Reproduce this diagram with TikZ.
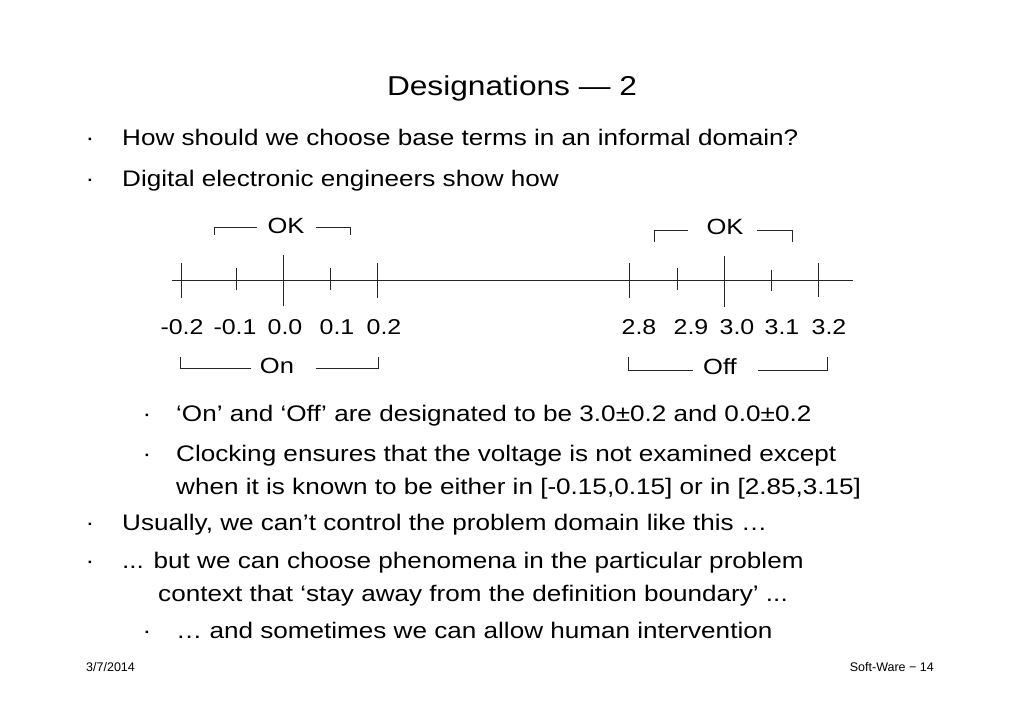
\documentclass[tikz,border=0pt]{standalone}
\usepackage{fontspec}
\setmainfont{Liberation Sans}[FakeStretch=1.16]
\newfontfamily\footfont{Liberation Sans}
\begin{document}
\begin{tikzpicture}[x=1pt,y=-1pt,
  txt/.style={inner sep=0pt,anchor=base west,font=\fontsize{22.5}{27}\selectfont},
  dotb/.style={inner sep=0pt,anchor=base,font=\fontsize{22.5}{27}\selectfont},
  num/.style={inner sep=0pt,anchor=base,font=\fontsize{21.5}{26}\selectfont},
  lab/.style={inner sep=0pt,anchor=base,font=\fontsize{22}{26}\selectfont},
  foot/.style={inner sep=0pt,anchor=base,font=\footfont\fontsize{12.5}{15}\selectfont},
  ln/.style={line width=0.8pt,black!85}]
\useasboundingbox (0,0) rectangle (1023,708);
% title
\node[inner sep=0pt,anchor=base,font=\fontsize{27.3}{33}\selectfont] (title) at (512,96) {Designations — 2};
% top bullets
\node[dotb] (d1) at (90,146) {·};
\node[txt] (t1) at (122,146) {How should we choose base terms in an informal domain?};
\node[dotb] (d2) at (90,187) {·};
\node[txt] (t2) at (122,187) {Digital electronic engineers show how};
% number line
\coordinate (L) at (172,280);
\coordinate (R) at (853,280);
\draw[ln] (L) -- (R);
\foreach \n/\x/\a/\b in {a/181/263/298, b/236/268/290, c/283/255/306, d/330/268/290, e/377/263/298,
                         f/629/263/298, g/677/268/290, h/724/256/307, i/771/270/291, j/818/263/297}{
  \coordinate (top\n) at (\x,\a);
  \coordinate (bot\n) at (\x,\b);
  \draw[ln] (top\n) -- (bot\n);
}
% tick labels
\node[num] (na) at (182,335) {-0.2};
\node[num] (nb) at (235,335) {-0.1};
\node[num] (nc) at (285,335) {0.0};
\node[num] (nd) at (337,335) {0.1};
\node[num] (ne) at (384,335) {0.2};
\node[num] (nf) at (639,335) {2.8};
\node[num] (ng) at (691,335) {2.9};
\node[num] (nh) at (737,335) {3.0};
\node[num] (ni) at (782,335) {3.1};
\node[num] (nj) at (829,335) {3.2};
% OK bracket left
\node[lab] (ok1) at (286,234) {OK};
\coordinate (ok1a) at (214,235); \coordinate (ok1b) at (214,227); \coordinate (ok1c) at (257,227);
\coordinate (ok1d) at (316,227); \coordinate (ok1e) at (350,227); \coordinate (ok1f) at (350,235);
\draw[ln] (ok1a) -- (ok1b) -- (ok1c);
\draw[ln] (ok1d) -- (ok1e) -- (ok1f);
% OK bracket right
\node[lab] (ok2) at (725,235) {OK};
\coordinate (ok2a) at (654,242); \coordinate (ok2b) at (654,230); \coordinate (ok2c) at (688,230);
\coordinate (ok2d) at (757,230); \coordinate (ok2e) at (792,230); \coordinate (ok2f) at (792,242);
\draw[ln] (ok2a) -- (ok2b) -- (ok2c);
\draw[ln] (ok2d) -- (ok2e) -- (ok2f);
% On bracket
\node[lab] (on) at (277,374) {On};
\coordinate (on1) at (180,357); \coordinate (on2) at (180,368); \coordinate (on3) at (251,368);
\coordinate (on4) at (316,368); \coordinate (on5) at (378,368); \coordinate (on6) at (378,357);
\draw[ln] (on1) -- (on2) -- (on3);
\draw[ln] (on4) -- (on5) -- (on6);
% Off bracket
\node[lab] (off) at (720,375) {Off};
\coordinate (of1) at (628,357); \coordinate (of2) at (628,370); \coordinate (of3) at (693,370);
\coordinate (of4) at (758,370); \coordinate (of5) at (827,370); \coordinate (of6) at (827,357);
\draw[ln] (of1) -- (of2) -- (of3);
\draw[ln] (of4) -- (of5) -- (of6);
% lower bullets
\node[dotb] (d3) at (147,422) {·};
\node[txt] (t3) at (176,422) {‘On’ and ‘Off’ are designated to be 3.0±0.2 and 0.0±0.2};
\node[dotb] (d4) at (147,461) {·};
\node[txt] (t4) at (176,461) {Clocking ensures that the voltage is not examined except};
\node[txt] (t5) at (176,494) {when it is known to be either in [-0.15,0.15] or in [2.85,3.15]};
\node[dotb] (d5) at (90,530) {·};
\node[txt] (t6) at (122,530) {Usually, we can’t control the problem domain like this …};
\node[dotb] (d6) at (90,568) {·};
\node[txt] (t7) at (122,568) {... but we can choose phenomena in the particular problem};
\node[txt] (t8) at (158,601) {context that ‘stay away from the definition boundary’ ...};
\node[dotb] (d7) at (147,638) {·};
\node[txt] (t9) at (176,638) {… and sometimes we can allow human intervention};
% footer
\node[foot,anchor=base west] (date) at (86,671) {3/7/2014};
\node[foot,anchor=base east] (page) at (934,671) {Soft-Ware − 14};
\end{tikzpicture}
\end{document}
